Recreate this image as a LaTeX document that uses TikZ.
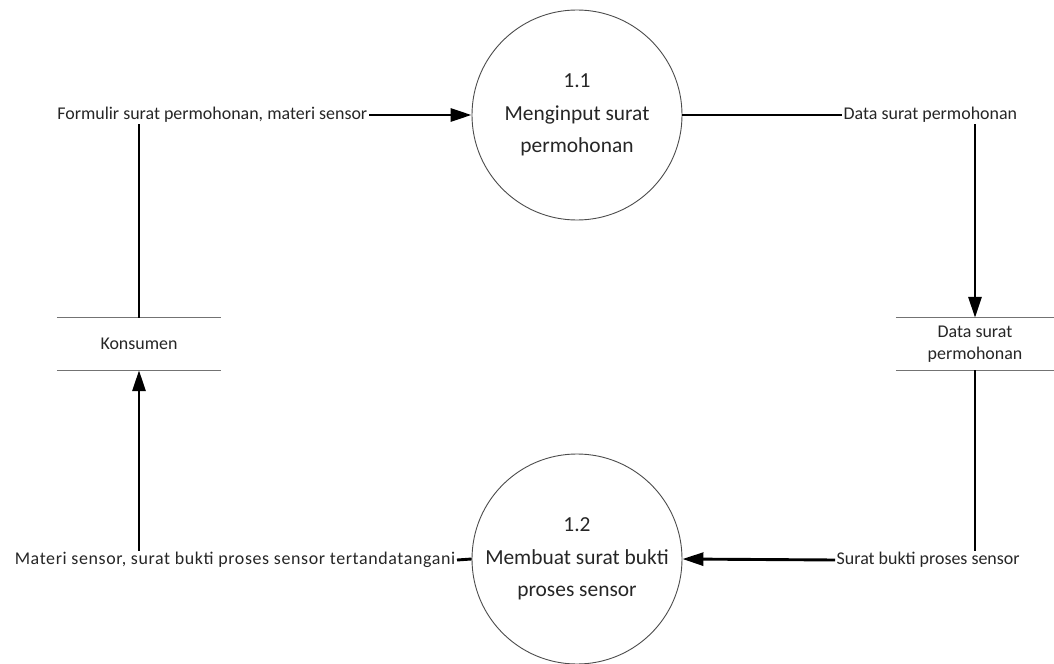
\documentclass[tikz,border=0pt]{standalone}
\usepackage{fontspec}
\setmainfont{Carlito}
\usetikzlibrary{arrows.meta}
\begin{document}
\begin{tikzpicture}[x=1bp,y=-1bp,
  process/.style={circle,draw=black!70,line width=0.9bp,minimum size=210bp,inner sep=0pt,
    align=center,text=black!85,font=\fontsize{21.5}{32.5}\selectfont},
  store/.style={minimum height=52bp,inner sep=0pt,align=center,text=black!85,
    font=\fontsize{18}{22}\selectfont},
  flowlabel/.style={inner sep=1.5bp,text=black!85,font=\fontsize{18}{22}\selectfont},
  flow/.style={line width=2.9bp,black},
  flowarrow/.style={flow,-{Triangle[length=21bp,width=13bp]}},
  storeline/.style={line width=1.2bp,black!55}]
\fill[white] (0,0) rectangle (1054,664);
\useasboundingbox (0,0) rectangle (1054,664);

% processes
\node[process] (p11) at (577,115) {1.1\\Menginput surat\\permohonan};
\node[process] (p12) at (577,559) {1.2\\Membuat surat bukti\\proses sensor};

% external entity and data store
\node[store,minimum width=164bp] (kons) at (139,344) {Konsumen};
\node[store,minimum width=158bp] (ds) at (975,344) {Data surat\\permohonan};
\foreach \s in {kons,ds}{
  \draw[storeline] (\s.north west) -- (\s.north east);
  \draw[storeline] (\s.south west) -- (\s.south east);
}

% flow labels
\node[flowlabel,anchor=east] (fa) at (369,115) {Formulir surat permohonan, materi sensor};
\node[flowlabel,anchor=west] (fb) at (842,115) {Data surat permohonan};
\node[flowlabel,anchor=west] (fc) at (835,560) {Surat bukti proses sensor};
\node[flowlabel,anchor=east] (fd) at (457,560)
  {\addfontfeatures{LetterSpace=3.5}Materi sensor, surat bukti proses sensor tertandatangani};

% data flows
\draw[flow] (kons.north) -- (kons.north |- fa.south);
\draw[flowarrow] (fa.east) -- (p11.west);
\draw[flow] (p11.east) -- (fb.west);
\draw[flowarrow] (ds.north |- fb.south) -- (ds.north);
\draw[flow] (ds.south) -- (ds.south |- fc.north);
\draw[flowarrow] (fc.west) -- (p12.east);
\draw[flow] (p12.west) -- (fd.east);
\draw[flowarrow] (kons.south |- fd.north) -- (kons.south);
\end{tikzpicture}
\end{document}
